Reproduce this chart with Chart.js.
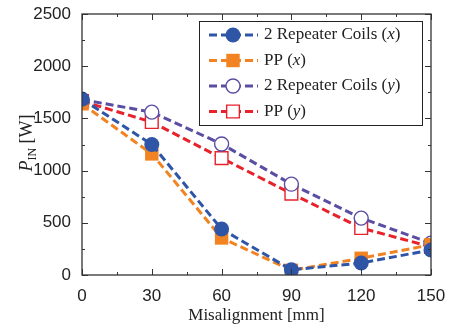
<!DOCTYPE html>
<html>
<head>
<meta charset="utf-8">
<script src="https://cdn.jsdelivr.net/npm/chart.js@4"></script>
<style>
  html, body { margin: 0; padding: 0; background: #fff; }
  #wrap { width: 453px; height: 329px; }
</style>
</head>
<body>
<div id="wrap"><canvas id="chart" width="453" height="329"></canvas></div>
<script>
// Input power vs misalignment
const misalignment = [0, 30, 60, 90, 120, 150];
const rcX = [1685, 1250, 440, 50, 115, 240];   // 2 Repeater Coils (x)
const ppX = [1640, 1160, 355, 45, 160, 290];   // PP (x)
const rcY = [1680, 1560, 1255, 870, 545, 305]; // 2 Repeater Coils (y)
const ppY = [1665, 1465, 1120, 780, 450, 270]; // PP (y)
const seriesNames = ['2 Repeater Coils (x)', 'PP (x)', '2 Repeater Coils (y)', 'PP (y)'];
const xTicks = [0, 30, 60, 90, 120, 150];
const yTicks = [0, 500, 1000, 1500, 2000, 2500];

const BLUE = '#2f56a6';
const ORANGE = '#f28322';
const PURPLE = '#5a4ea3';
const RED = '#e8212b';
const SERIF = '"Liberation Serif", "Times New Roman", serif';
const SANS = '"Liberation Sans", Arial, sans-serif';

function series(label, values, color, style, filled, radius) {
  return {
    label,
    data: misalignment.map((x, i) => ({ x, y: values[i] })),
    borderColor: color,
    borderWidth: 3,
    borderDash: [8, 4],
    pointStyle: style,
    pointRadius: radius,
    pointBackgroundColor: filled ? color : '#fff',
    pointBorderColor: color,
    pointBorderWidth: filled ? 0 : 1.4,
    tension: 0,
    fill: false,
  };
}

// ─── Frame, inward ticks, axis titles, legend ───────────────────

const decorPlugin = {
  id: 'decor',
  afterDraw(chart) {
    const { ctx, chartArea: a, scales } = chart;
    const xs = scales.x, ys = scales.y;
    ctx.save();

    // frame
    ctx.strokeStyle = '#333';
    ctx.lineWidth = 1.3;
    ctx.strokeRect(a.left, a.top, a.right - a.left, a.bottom - a.top);

    // ticks pointing inward on all sides
    ctx.lineWidth = 1;
    ctx.beginPath();
    for (let v = 0; v <= 150; v += 15) {
      const px = Math.round(xs.getPixelForValue(v)) + 0.5;
      const len = v % 30 === 0 ? 6 : 3;
      ctx.moveTo(px, a.bottom); ctx.lineTo(px, a.bottom - len);
      ctx.moveTo(px, a.top); ctx.lineTo(px, a.top + len);
    }
    for (let v = 0; v <= 2500; v += 250) {
      const py = Math.round(ys.getPixelForValue(v)) + 0.5;
      const len = v % 500 === 0 ? 6 : 3;
      ctx.moveTo(a.left, py); ctx.lineTo(a.left + len, py);
      ctx.moveTo(a.right, py); ctx.lineTo(a.right - len, py);
    }
    ctx.stroke();

    // x title
    ctx.fillStyle = '#222';
    ctx.font = '17px ' + SERIF;
    ctx.textAlign = 'center';
    ctx.textBaseline = 'middle';
    ctx.fillText('Misalignment [mm]', (a.left + a.right) / 2, 316);

    // y title: P_IN [W]
    ctx.save();
    ctx.translate(26, 143);
    ctx.rotate(-Math.PI / 2);
    ctx.textAlign = 'left';
    ctx.textBaseline = 'alphabetic';
    const parts = [
      { t: 'P', f: 'italic 18px ' + SERIF, dy: 0 },
      { t: 'IN', f: '12px ' + SERIF, dy: 4 },
      { t: ' [W]', f: '18px ' + SERIF, dy: 0 },
    ];
    let w = 0;
    parts.forEach((p) => { ctx.font = p.f; w += ctx.measureText(p.t).width; });
    let cx = -w / 2;
    parts.forEach((p) => {
      ctx.font = p.f;
      ctx.fillText(p.t, cx, 6 + p.dy);
      cx += ctx.measureText(p.t).width;
    });
    ctx.restore();

    // legend
    const box = { x: 199, y: 21, w: 223, h: 104 };
    ctx.fillStyle = '#fff';
    ctx.fillRect(box.x, box.y, box.w, box.h);
    ctx.strokeStyle = '#222';
    ctx.lineWidth = 1;
    ctx.strokeRect(box.x + 0.5, box.y + 0.5, box.w, box.h);

    chart.data.datasets.forEach((ds, i) => {
      const y = 35 + i * 25.5;
      ctx.strokeStyle = ds.borderColor;
      ctx.lineWidth = 3;
      ctx.setLineDash([8, 4]);
      ctx.beginPath();
      ctx.moveTo(209, y); ctx.lineTo(258, y);
      ctx.stroke();
      ctx.setLineDash([]);
      ctx.fillStyle = ds.pointBackgroundColor;
      ctx.strokeStyle = ds.pointBorderColor;
      ctx.lineWidth = ds.pointBorderWidth;
      Chart.helpers.drawPoint(ctx, {
        pointStyle: ds.pointStyle, radius: ds.pointRadius, rotation: 0, borderWidth: ds.pointBorderWidth,
      }, 233, y);

      // label with italic axis letter
      const m = ds.label.match(/^(.*\()(\w)(\))$/);
      const segs = m ? [[m[1], ''], [m[2], 'italic '], [m[3], '']] : [[ds.label, '']];
      ctx.fillStyle = '#222';
      ctx.textAlign = 'left';
      ctx.textBaseline = 'middle';
      let tx = 264;
      segs.forEach(([t, st]) => {
        ctx.font = st + '17px ' + SERIF;
        ctx.fillText(t, tx, y);
        tx += ctx.measureText(t).width;
      });
    });
    ctx.restore();
  },
};

new Chart(document.getElementById('chart'), {
  type: 'line',
  data: {
    datasets: [
      series(seriesNames[0], rcX, BLUE, 'circle', true, 7.5),
      series(seriesNames[1], ppX, ORANGE, 'rect', true, 9.5),
      series(seriesNames[2], rcY, PURPLE, 'circle', false, 7),
      series(seriesNames[3], ppY, RED, 'rect', false, 9),
    ],
  },
  options: {
    responsive: false,
    animation: false,
    layout: { padding: { top: 14, right: 22, left: 0, bottom: 0 } },
    plugins: {
      legend: { display: false },
      tooltip: { enabled: false },
    },
    scales: {
      x: {
        type: 'linear',
        min: 0,
        max: 150,
        afterFit: (s) => { s.height = 54; },
        afterBuildTicks: (s) => { s.ticks = xTicks.map((v) => ({ value: v })); },
        grid: { display: false },
        border: { display: false },
        ticks: { padding: 3, color: '#222', font: { family: SANS, size: 17 }, callback: (v) => String(v) },
      },
      y: {
        min: 0,
        max: 2500,
        afterFit: (s) => { s.width = 82; },
        afterBuildTicks: (s) => { s.ticks = yTicks.map((v) => ({ value: v })); },
        grid: { display: false },
        border: { display: false },
        ticks: { padding: 3, color: '#222', font: { family: SANS, size: 17 }, callback: (v) => String(v) },
      },
    },
  },
  plugins: [decorPlugin],
});
</script>
</body>
</html>
